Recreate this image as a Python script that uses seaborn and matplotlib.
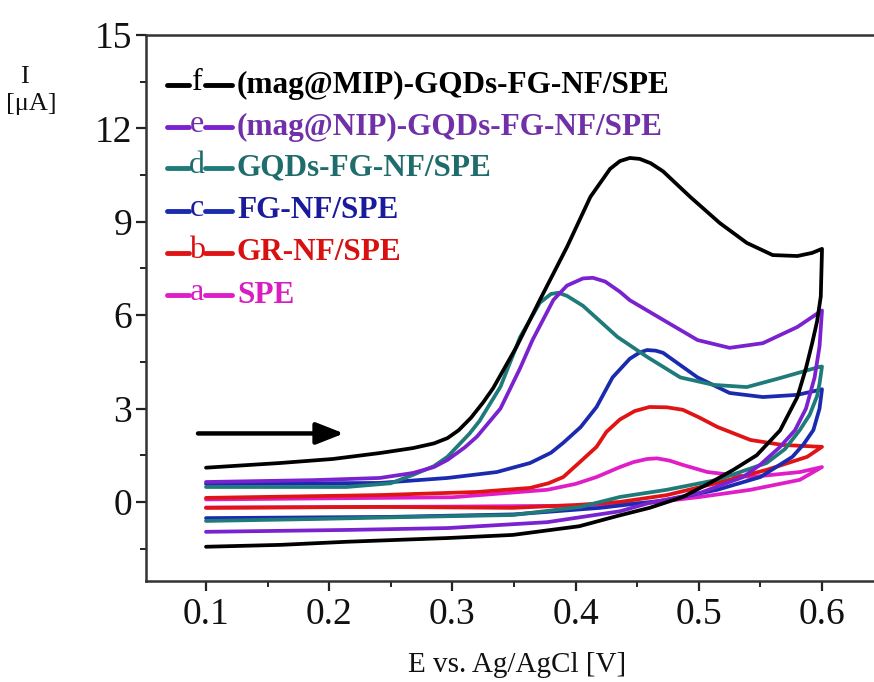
import numpy as np
import pandas as pd
import matplotlib
matplotlib.use("Agg")
import matplotlib.pyplot as plt
import seaborn as sns
from matplotlib.lines import Line2D
from matplotlib.ticker import MultipleLocator

# ---------------- data ----------------
curve_keys = ["a", "b", "c", "d", "e", "f"]
curve_labels = {
    "f": "(mag@MIP)-GQDs-FG-NF/SPE",
    "e": "(mag@NIP)-GQDs-FG-NF/SPE",
    "d": "GQDs-FG-NF/SPE",
    "c": "FG-NF/SPE",
    "b": "GR-NF/SPE",
    "a": "SPE",
}

# forward (anodic) sweeps and reverse sweeps, E in V, I in µA
f_fwd_E = [0.100, 0.160, 0.203, 0.241, 0.268, 0.285, 0.296, 0.305, 0.315, 0.325, 0.333, 0.352, 0.371,
           0.393, 0.412, 0.428, 0.436, 0.444, 0.452, 0.461, 0.471, 0.493, 0.517, 0.539, 0.560, 0.580,
           0.592, 0.600]
f_fwd_I = [1.10, 1.25, 1.38, 1.57, 1.73, 1.88, 2.05, 2.30, 2.70, 3.20, 3.65, 4.98, 6.49,
           8.19, 9.80, 10.70, 10.95, 11.05, 11.02, 10.88, 10.62, 9.80, 8.96, 8.32, 7.93, 7.90,
           8.00, 8.13]
f_rev_E = [0.600, 0.599, 0.596, 0.592, 0.587, 0.580, 0.566, 0.547, 0.528, 0.509, 0.487, 0.460, 0.434,
           0.403, 0.349, 0.296, 0.214, 0.160, 0.100]
f_rev_I = [8.10, 6.60, 5.80, 5.10, 4.30, 3.37, 2.30, 1.50, 1.03, 0.61, 0.16, -0.19, -0.45,
           -0.78, -1.06, -1.16, -1.28, -1.38, -1.44]

e_fwd_E = [0.100, 0.187, 0.241, 0.268, 0.285, 0.296, 0.310, 0.320, 0.339, 0.355, 0.365, 0.382, 0.393,
           0.406, 0.414, 0.424, 0.436, 0.444, 0.471, 0.499, 0.525, 0.552, 0.580, 0.598, 0.600]
e_fwd_I = [0.64, 0.70, 0.77, 0.93, 1.12, 1.35, 1.75, 2.10, 3.00, 4.30, 5.20, 6.49, 6.95,
           7.18, 7.20, 7.08, 6.75, 6.48, 5.85, 5.20, 4.95, 5.10, 5.62, 6.10, 6.15]
e_rev_E = [0.600, 0.598, 0.594, 0.587, 0.578, 0.566, 0.550, 0.536, 0.501, 0.460, 0.436, 0.377, 0.296,
           0.214, 0.100]
e_rev_I = [6.15, 5.00, 4.00, 3.00, 2.30, 1.77, 1.20, 0.80, 0.29, -0.03, -0.30, -0.65, -0.84,
           -0.90, -0.96]

d_fwd_E = [0.100, 0.214, 0.250, 0.268, 0.285, 0.296, 0.314, 0.322, 0.339, 0.355, 0.371, 0.380, 0.386,
           0.393, 0.406, 0.420, 0.434, 0.458, 0.485, 0.512, 0.539, 0.566, 0.598, 0.600]
d_fwd_I = [0.48, 0.48, 0.60, 0.87, 1.15, 1.45, 2.20, 2.60, 3.70, 5.30, 6.40, 6.68, 6.72,
           6.62, 6.30, 5.80, 5.30, 4.66, 4.00, 3.76, 3.69, 3.98, 4.34, 4.35]
d_rev_E = [0.600, 0.598, 0.596, 0.590, 0.582, 0.570, 0.555, 0.515, 0.474, 0.436, 0.404, 0.349, 0.268,
           0.187, 0.100]
d_rev_I = [4.35, 3.80, 3.40, 2.80, 2.31, 1.70, 1.25, 0.71, 0.39, 0.16, -0.16, -0.42, -0.48,
           -0.55, -0.61]

c_fwd_E = [0.100, 0.241, 0.296, 0.336, 0.363, 0.380, 0.390, 0.404, 0.417, 0.430, 0.444, 0.452, 0.458,
           0.465, 0.471, 0.499, 0.525, 0.552, 0.580, 0.598, 0.600]
c_fwd_I = [0.58, 0.61, 0.77, 0.96, 1.25, 1.58, 1.90, 2.40, 3.05, 4.00, 4.60, 4.80, 4.88,
           4.86, 4.79, 4.00, 3.50, 3.37, 3.44, 3.60, 3.62]
c_rev_E = [0.600, 0.598, 0.593, 0.585, 0.576, 0.550, 0.515, 0.474, 0.420, 0.350, 0.250, 0.100]
c_rev_I = [3.62, 3.00, 2.31, 1.85, 1.45, 0.80, 0.39, 0.06, -0.19, -0.40, -0.48, -0.52]

b_fwd_E = [0.100, 0.241, 0.320, 0.363, 0.378, 0.390, 0.404, 0.417, 0.425, 0.436, 0.448, 0.460, 0.474,
           0.487, 0.500, 0.515, 0.542, 0.568, 0.600]
b_fwd_I = [0.13, 0.22, 0.32, 0.45, 0.60, 0.80, 1.30, 1.77, 2.25, 2.65, 2.92, 3.05, 3.04,
           2.96, 2.72, 2.41, 1.99, 1.83, 1.77]
b_rev_E = [0.600, 0.588, 0.555, 0.515, 0.474, 0.436, 0.400, 0.349, 0.241, 0.100]
b_rev_I = [1.77, 1.45, 1.03, 0.61, 0.22, 0.00, -0.10, -0.19, -0.16, -0.19]

a_fwd_E = [0.100, 0.300, 0.377, 0.400, 0.417, 0.436, 0.447, 0.458, 0.466, 0.476, 0.487, 0.507, 0.542,
           0.582, 0.600]
a_fwd_I = [0.08, 0.15, 0.39, 0.58, 0.80, 1.12, 1.28, 1.38, 1.40, 1.33, 1.19, 0.96, 0.80,
           0.96, 1.12]
a_rev_E = [0.600, 0.582, 0.542, 0.501, 0.460, 0.400, 0.300, 0.100]
a_rev_I = [1.12, 0.71, 0.39, 0.16, -0.03, -0.12, -0.15, -0.18]

fwd_E = dict(a=a_fwd_E, b=b_fwd_E, c=c_fwd_E, d=d_fwd_E, e=e_fwd_E, f=f_fwd_E)
fwd_I = dict(a=a_fwd_I, b=b_fwd_I, c=c_fwd_I, d=d_fwd_I, e=e_fwd_I, f=f_fwd_I)
rev_E = dict(a=a_rev_E, b=b_rev_E, c=c_rev_E, d=d_rev_E, e=e_rev_E, f=f_rev_E)
rev_I = dict(a=a_rev_I, b=b_rev_I, c=c_rev_I, d=d_rev_I, e=e_rev_I, f=f_rev_I)

x_ticks = [0.1, 0.2, 0.3, 0.4, 0.5, 0.6]
y_ticks = [0, 3, 6, 9, 12, 15]
arrow_tail = (0.0935, 2.2)
arrow_head = (0.212, 2.2)

# ---------------- styles ----------------
line_colors = dict(f="#000000", e="#7A22CF", d="#1F7A7A", c="#1B2BB0", b="#E01414", a="#E01EC8")
text_colors = dict(f="#000000", e="#7030A8", d="#1F6C6C", c="#1A1A9C", b="#D81010", a="#D81EC0")

sns.set_theme(style="white")
plt.rcParams["font.family"] = ["Liberation Serif", "DejaVu Serif"]

W, H = 874, 682
fig = plt.figure(figsize=(W / 100, H / 100), dpi=100)
ax_left, ax_right, ax_top, ax_bot = 146, 874, 35, 581
ax = fig.add_axes([ax_left / W, (H - ax_bot) / H, (ax_right - ax_left) / W, (ax_bot - ax_top) / H])

rows = []
for key in curve_keys:
    E = list(fwd_E[key]) + list(rev_E[key])
    I = list(fwd_I[key]) + list(rev_I[key])
    for j, (ev, iv) in enumerate(zip(E, I)):
        rows.append(dict(E=ev, I=iv, curve=key, step=j))
df = pd.DataFrame(rows)

for key in curve_keys:
    sub = df[df["curve"] == key]
    sns.lineplot(data=sub, x="E", y="I", sort=False, estimator=None, color=line_colors[key],
                 lw=2.7, ax=ax, legend=False, solid_joinstyle="round", solid_capstyle="round")

ax.set_xlim(0.0513, 0.6422)
ax.set_ylim(-2.54, 15.0)
ax.set_xticks(x_ticks)
ax.set_xticklabels([f"{v:.1f}" for v in x_ticks])
ax.set_yticks(y_ticks)
ax.set_yticklabels([str(v) for v in y_ticks])
ax.xaxis.set_minor_locator(MultipleLocator(0.05))
ax.yaxis.set_minor_locator(MultipleLocator(1.5))
ax.tick_params(which="major", direction="out", length=7, width=1.6, labelsize=27,
               bottom=True, left=True, colors="#222222", pad=4)
ax.tick_params(which="minor", direction="out", length=4, width=1.4, bottom=True, left=True,
               colors="#222222")
ax.tick_params(axis="x", labelcolor="#111111", pad=5)
ax.tick_params(axis="y", labelcolor="#111111", pad=3)
for s in ["left", "bottom", "top"]:
    ax.spines[s].set_visible(True)
    ax.spines[s].set_color("#333333")
    ax.spines[s].set_linewidth(1.8)
ax.spines["right"].set_visible(False)
ax.set_xlabel("")
ax.set_ylabel("")

# axis titles
fig.text(517 / W, 1 - 665 / H, "E vs. Ag/AgCl [V]", ha="center", va="center", fontsize=21,
         color="#111111")
fig.text(20 / W, 1 - 77 / H, "I", ha="left", va="center", fontsize=19, color="#111111")
fig.text(6 / W, 1 - 104 / H, "[μA]", ha="left", va="center", fontsize=19, color="#111111")

# legend (Origin style: —x— label)
legend_order = ["f", "e", "d", "c", "b", "a"]
row_y = [85, 127, 168, 211, 253, 295]
for key, py in zip(legend_order, row_y):
    yy = 1 - py / H
    col_l = line_colors[key]
    fig.add_artist(Line2D([167 / W, 189 / W], [yy, yy], color=col_l, lw=3.5, transform=fig.transFigure))
    fig.add_artist(Line2D([205 / W, 232 / W], [yy, yy], color=col_l, lw=3.5, transform=fig.transFigure))
    fig.text(197 / W, yy + 0.004, key, ha="center", va="center", fontsize=23, color=text_colors[key])
    fig.text(237 / W, yy, curve_labels[key], ha="left", va="center", fontsize=22.5,
             fontweight="bold", color=text_colors[key])

# scan direction arrow
ax.annotate("", xy=arrow_head, xytext=arrow_tail,
            arrowprops=dict(arrowstyle="-|>,head_length=1.4,head_width=0.55", color="black", lw=3.2,
                            shrinkA=0, shrinkB=0))

fig.savefig("out.png", dpi=100)
